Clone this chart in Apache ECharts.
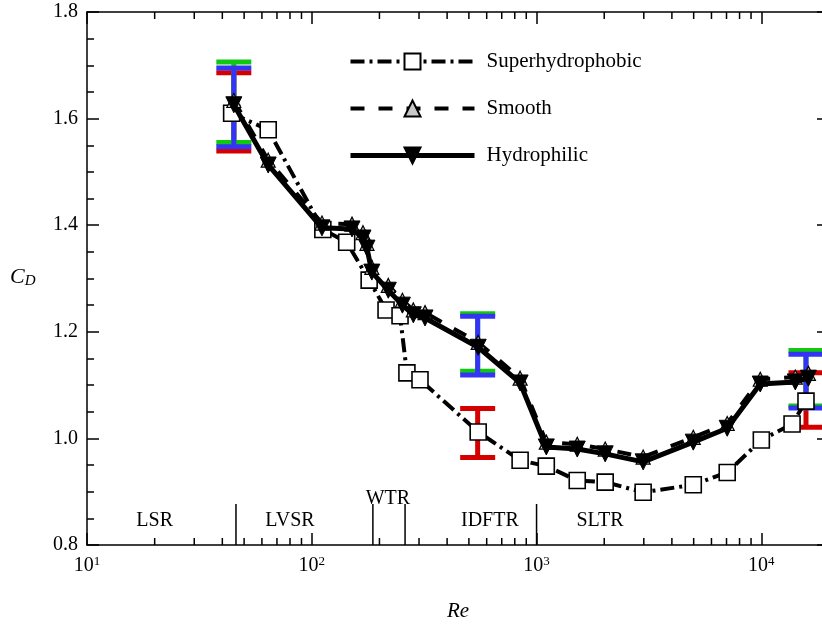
<!DOCTYPE html>
<html><head><meta charset="utf-8">
<script src="https://cdn.jsdelivr.net/npm/echarts@6/dist/echarts.min.js"></script>
<style>html,body{margin:0;padding:0;background:#fff}#c{width:822px;height:625px}</style>
</head><body><div id="c"></div>
<script>
// ---------- data ----------
const seriesNames = ['Superhydrophobic', 'Smooth', 'Hydrophilic'];

const superRe = [44, 64, 112, 143, 180, 214, 247, 265, 303, 550, 845, 1105, 1517, 2020, 2980, 4980, 7050, 10000, 13700, 15800];
const superCD = [1.610, 1.579, 1.392, 1.368, 1.297, 1.241, 1.230, 1.123, 1.110, 1.012, 0.959, 0.948, 0.921, 0.918, 0.899, 0.913, 0.936, 0.997, 1.027, 1.070];

const smoothRe = [45, 64, 111, 151, 169, 176, 185, 219, 253, 283, 319, 550, 845, 1105, 1517, 2020, 2980, 4980, 7050, 9890, 14160, 16200];
const smoothCD = [1.634, 1.522, 1.404, 1.402, 1.386, 1.366, 1.321, 1.287, 1.259, 1.241, 1.236, 1.180, 1.113, 0.993, 0.989, 0.980, 0.965, 1.002, 1.028, 1.111, 1.115, 1.122];

const hydroRe = [45, 64, 111, 151, 169, 176, 185, 219, 253, 283, 319, 550, 845, 1105, 1517, 2020, 2980, 4980, 7050, 9890, 14160, 16200];
const hydroCD = [1.626, 1.513, 1.395, 1.393, 1.376, 1.357, 1.312, 1.278, 1.250, 1.232, 1.226, 1.171, 1.104, 0.984, 0.980, 0.971, 0.956, 0.993, 1.019, 1.102, 1.106, 1.113];

// error bars: [Re, low, high]
const barRe = [45, 547, 15800];
const redLow = [1.539, 0.964, 1.021];
const redHigh = [1.686, 1.056, 1.123];
const greenLow = [1.555, 1.126, 1.061];
const greenHigh = [1.706, 1.234, 1.165];
const blueLow = [1.547, 1.119, 1.057];
const blueHigh = [1.695, 1.229, 1.158];

// flow regimes
const regimeNames = ['LSR', 'LVSR', 'WTR', 'IDFTR', 'SLTR'];
const regimeLabelRe = [20, 80, 218, 620, 1915];
const regimeLabelCD = [0.845, 0.845, 0.887, 0.845, 0.845];
const regimeBoundRe = [46, 187, 260, 1000];
const regimeBoundTop = 0.877;

// axis ticks
const xMinorTicks = [20, 30, 40, 50, 60, 70, 80, 90, 200, 300, 400, 500, 600, 700, 800, 900,
  2000, 3000, 4000, 5000, 6000, 7000, 8000, 9000];
const yTickLabels = ['0.8', '1.0', '1.2', '1.4', '1.6', '1.8'];

// ---------- chart ----------
const FONT = 'Liberation Serif';
const chart = echarts.init(document.getElementById('c'), null, {renderer: 'canvas'});

function barSeries(color, low, high) {
  return {
    type: 'custom', silent: true, z: 1, clip: false,
    data: barRe.map((r, i) => [r, low[i], high[i]]),
    encode: {x: 0, y: [1, 2]},
    renderItem: function (params, api) {
      const x = api.value(0);
      const p1 = api.coord([x, api.value(1)]);
      const p2 = api.coord([x, api.value(2)]);
      const hw = 17.5;
      const st = {stroke: color, lineWidth: 5, fill: null};
      return {type: 'group', children: [
        {type: 'line', shape: {x1: p1[0], y1: p1[1], x2: p2[0], y2: p2[1]}, style: st},
        {type: 'line', shape: {x1: p1[0] - hw, y1: p1[1], x2: p1[0] + hw, y2: p1[1]}, style: st},
        {type: 'line', shape: {x1: p2[0] - hw, y1: p2[1], x2: p2[0] + hw, y2: p2[1]}, style: st}
      ]};
    }
  };
}

const axisLineStyle = {color: '#000', width: 1.5};

const option = {
  animation: false,
  backgroundColor: '#fff',
  grid: {left: 87, top: 12, width: 742, height: 533, containLabel: false, outerBoundsMode: 'none'},
  legend: {
    data: seriesNames, orient: 'vertical', left: 343, top: 46,
    itemWidth: 124, itemHeight: 20, itemGap: 26, selectedMode: false,
    lineStyle: {width: 'inherit'},
    textStyle: {fontFamily: FONT, fontSize: 21, color: '#000', padding: [0, 0, 0, 7]}
  },
  xAxis: [{
    type: 'log', logBase: 10, min: 10, max: 20000, position: 'bottom',
    name: 'Re', nameLocation: 'middle', nameGap: 56,
    nameTextStyle: {fontFamily: FONT, fontSize: 21, fontStyle: 'italic', color: '#000'},
    axisLine: {show: true, lineStyle: axisLineStyle},
    axisTick: {show: true, inside: true, length: 12, lineStyle: axisLineStyle},
    splitLine: {show: false},
    axisLabel: {
      margin: 10,
      formatter: function (v) {
        const e = Math.round(Math.log10(v));
        if (Math.abs(Math.pow(10, e) - v) > 1e-6 * v) return '';
        return '{b|10}{s|' + e + '}';
      },
      rich: {
        b: {fontFamily: FONT, fontSize: 20, color: '#000'},
        s: {fontFamily: FONT, fontSize: 13, color: '#000', padding: [0, 0, 9, 0]}
      }
    }
  }, {
    type: 'log', logBase: 10, min: 10, max: 20000, position: 'top',
    axisLine: {show: true, lineStyle: axisLineStyle},
    axisTick: {show: true, inside: true, length: 12, lineStyle: axisLineStyle},
    axisLabel: {show: false}, splitLine: {show: false}
  }],
  yAxis: [{
    type: 'value', min: 0.8, max: 1.8, interval: 0.2, position: 'left',
    axisLine: {show: true, lineStyle: axisLineStyle},
    axisTick: {show: true, inside: true, length: 12, lineStyle: axisLineStyle},
    minorTick: {show: true, splitNumber: 4, length: 7, lineStyle: axisLineStyle},
    splitLine: {show: false}, minorSplitLine: {show: false},
    axisLabel: {
      margin: 9, fontFamily: FONT, fontSize: 20, color: '#000',
      formatter: function (v) {
        const idx = Math.round((v - 0.8) / 0.2);
        return yTickLabels[idx] !== undefined ? yTickLabels[idx] : '';
      }
    }
  }, {
    type: 'value', min: 0.8, max: 1.8, interval: 0.2, position: 'right',
    axisLine: {show: true, lineStyle: axisLineStyle},
    axisTick: {show: true, inside: true, length: 12, lineStyle: axisLineStyle},
    minorTick: {show: true, splitNumber: 4, length: 7, lineStyle: axisLineStyle},
    splitLine: {show: false}, axisLabel: {show: false}
  }],
  graphic: [{
    type: 'text', left: 10, top: 266,
    style: {
      text: '{c|C}{d|D}',
      rich: {
        c: {fontFamily: FONT, fontSize: 22, fontStyle: 'italic', fill: '#000'},
        d: {fontFamily: FONT, fontSize: 15, fontStyle: 'italic', fill: '#000', padding: [8, 0, 0, 0]}
      }
    }
  }],
  series: [
    {
      type: 'custom', silent: true, z: 0, clip: false,
      data: xMinorTicks.map(v => [v, 0.8]),
      encode: {x: 0, y: 1},
      renderItem: function (params, api) {
        const v = api.value(0);
        const b = api.coord([v, 0.8]);
        const t = api.coord([v, 1.8]);
        const st = {stroke: '#000', lineWidth: 1.5};
        return {type: 'group', children: [
          {type: 'line', shape: {x1: b[0], y1: b[1], x2: b[0], y2: b[1] - 7}, style: st},
          {type: 'line', shape: {x1: t[0], y1: t[1], x2: t[0], y2: t[1] + 7}, style: st}
        ]};
      }
    },
    {
      type: 'custom', silent: true, z: 0,
      data: regimeBoundRe.map(v => [v, regimeBoundTop]),
      encode: {x: 0, y: 1},
      renderItem: function (params, api) {
        const v = api.value(0);
        const b = api.coord([v, 0.8]);
        const t = api.coord([v, api.value(1)]);
        return {type: 'line', shape: {x1: b[0], y1: b[1], x2: t[0], y2: t[1]},
          style: {stroke: '#000', lineWidth: 1.5}};
      }
    },
    {
      type: 'custom', silent: true, z: 0,
      data: regimeNames.map((n, i) => [regimeLabelRe[i], regimeLabelCD[i], i]),
      encode: {x: 0, y: 1},
      renderItem: function (params, api) {
        const p = api.coord([api.value(0), api.value(1)]);
        return {type: 'text', x: p[0], y: p[1],
          style: {text: regimeNames[api.value(2)], font: '20px "Liberation Serif"',
            fill: '#000', align: 'center', verticalAlign: 'middle'}};
      }
    },
    barSeries('#d40000', redLow, redHigh),
    barSeries('#10c810', greenLow, greenHigh),
    barSeries('#3434f4', blueLow, blueHigh),
    {
      name: 'Superhydrophobic', type: 'line', z: 3,
      data: superRe.map((r, i) => [r, superCD[i]]),
      symbol: 'rect', symbolSize: 16,
      itemStyle: {color: '#fff', borderColor: '#000', borderWidth: 1.6},
      lineStyle: {color: '#000', width: 4, type: [14, 5, 3, 5]},
      emphasis: {disabled: true}
    },
    {
      name: 'Smooth', type: 'line', z: 4,
      data: smoothRe.map((r, i) => [r, smoothCD[i]]),
      symbol: 'triangle', symbolSize: 14,
      itemStyle: {color: '#c8c8c8', borderColor: '#000', borderWidth: 1.2},
      lineStyle: {color: '#000', width: 4, type: [14, 14]},
      emphasis: {disabled: true}
    },
    {
      name: 'Hydrophilic', type: 'line', z: 5,
      data: hydroRe.map((r, i) => [r, hydroCD[i]]),
      symbol: 'triangle', symbolRotate: 180, symbolSize: 16,
      itemStyle: {color: '#000', borderColor: '#000', borderWidth: 1},
      lineStyle: {color: '#000', width: 5},
      emphasis: {disabled: true}
    }
  ]
};
chart.setOption(option);
</script>
</body></html>
